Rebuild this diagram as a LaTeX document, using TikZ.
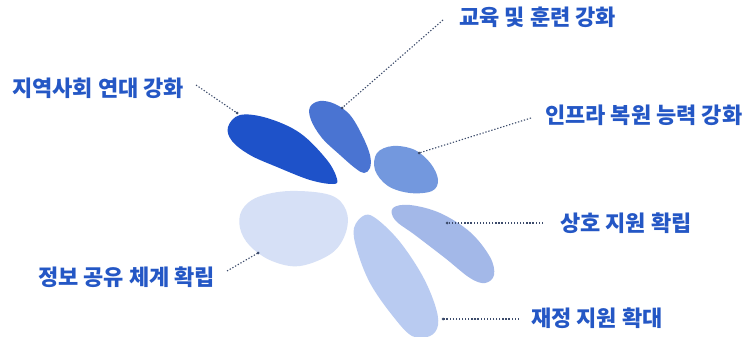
\documentclass[tikz,border=0pt]{standalone}
\usepackage{fontspec}
\setmainfont{Noto Sans CJK KR}
\definecolor{pA}{HTML}{1E52C9}
\definecolor{pB}{HTML}{4A74D2}
\definecolor{pC}{HTML}{7398DE}
\definecolor{pD}{HTML}{D6E0F6}
\definecolor{pE}{HTML}{A3B8E8}
\definecolor{pF}{HTML}{B9CBF1}
\definecolor{txt}{HTML}{2457C5}
\definecolor{lead}{HTML}{3C4B6B}
\tikzset{
  lbl/.style={anchor=west,inner sep=0pt,text=txt,font=\fontsize{22}{26}\selectfont\bfseries},
  leader/.style={draw=lead,line width=1.1pt,dash pattern=on 1.3pt off 1.8pt},
  petal/.style={smooth cycle,tension=0.6}
}
\begin{document}
\begin{tikzpicture}[x=1pt,y=-1pt]
\useasboundingbox[fill=white] (0,0) rectangle (750,337);
% petals
\fill[pA] plot[petal] coordinates {(240,115) (267,118) (300,133) (327,160) (337,179) (333,184) (310,180) (277,167) (250,155) (232,141) (228,127)};
\fill[pB] plot[petal] coordinates {(320,101) (335,104) (350,115) (362,135) (370,155) (370,168) (364,173) (355,168) (340,155) (322,138) (311,120) (310,107)};
\fill[pC] plot[petal] coordinates {(377,153) (393,146) (415,150) (431,164) (438,180) (432,191) (410,193) (388,186) (375,170)};
\fill[pD] plot[petal] coordinates {(242,210) (258,197) (290,191) (330,195) (346,210) (346,232) (332,253) (300,266) (272,261) (250,246) (240,228)};
\fill[pE] plot[petal] coordinates {(393,208) (410,205) (440,213) (470,232) (490,257) (494,275) (485,283) (470,278) (445,258) (415,235) (395,220)};
\fill[pF] plot[petal] coordinates {(365,215) (378,220) (400,242) (422,275) (435,305) (438,325) (430,336) (412,336) (392,315) (370,283) (357,250) (354,228)};
% labels
\node[lbl] (l1) at (12,88) {지역사회 연대 강화};
\node[lbl] (l2) at (459,17) {교육 및 훈련 강화};
\node[lbl] (l3) at (545,115) {인프라 복원 능력 강화};
\node[lbl] (l4) at (560,223) {상호 지원 확립};
\node[lbl] (l5) at (38,277) {정보 공유 체계 확립};
\node[lbl] (l6) at (531,318) {재정 지원 확대};
% leader ends
\coordinate (a1) at (196,85);  \coordinate (b1) at (237,113);
\coordinate (a2) at (443,20);  \coordinate (b2) at (342,108);
\coordinate (a3) at (531,118); \coordinate (b3) at (419,153);
\coordinate (a4) at (543,223); \coordinate (b4) at (447,223);
\coordinate (a5) at (227,271); \coordinate (b5) at (258,253);
\coordinate (a6) at (519,319); \coordinate (b6) at (443,319);
\foreach \i in {1,...,6}{
  \draw[leader] (a\i) -- (b\i);
  \fill[lead] (b\i) circle[radius=1.5pt];
}
\end{tikzpicture}
\end{document}
